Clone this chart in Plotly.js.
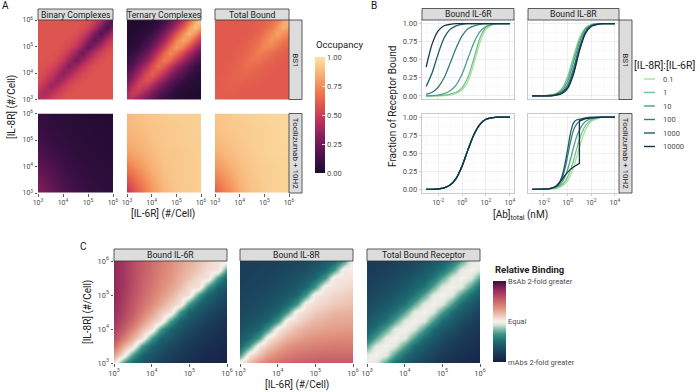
<!DOCTYPE html>
<html>
<head>
<meta charset="utf-8">
<script src="https://cdn.plot.ly/plotly-3.0.1.min.js"></script>
<style>
  html, body { margin: 0; padding: 0; background: #fff; }
  #plot { width: 700px; height: 392px; }
</style>
</head>
<body>
<div id="plot"></div>
<script>
// ---------------- data ----------------
// receptor grids, log10(#/cell)
const logGrid13 = [3, 3.25, 3.5, 3.75, 4, 4.25, 4.5, 4.75, 5, 5.25, 5.5, 5.75, 6];
const logGrid7 = [3, 3.5, 4, 4.5, 5, 5.5, 6];
const expTicks = [3, 4, 5, 6];
const expLabels = ["10<sup>3</sup>", "10<sup>4</sup>", "10<sup>5</sup>", "10<sup>6</sup>"];

// occupancy in %, rows = IL-8R from 10^3 (bottom) to 10^6 (top), cols = IL-6R 10^3 -> 10^6
const binaryBS1 = [
  [42,46,51,55,57,58,58,58,58,58,58,58,58],
  [46,40,44,50,54,57,58,58,58,58,58,58,58],
  [51,44,37,42,49,54,57,58,58,58,58,58,58],
  [55,50,42,35,41,48,54,57,58,58,58,58,58],
  [57,54,49,41,32,39,47,53,56,58,58,58,58],
  [58,57,54,48,39,30,37,46,53,56,58,58,58],
  [58,58,57,54,47,37,27,35,45,52,56,58,58],
  [58,58,58,57,53,46,35,25,34,44,52,56,58],
  [58,58,58,58,56,53,45,34,22,32,43,52,56],
  [58,58,58,58,58,56,52,44,32,20,30,42,51],
  [58,58,58,58,58,58,56,52,43,30,17,28,41],
  [58,58,58,58,58,58,58,56,52,42,28,15,27],
  [58,58,58,58,58,58,58,58,56,51,41,27,12]
];
const ternaryBS1 = [
  [45,41,33,26,19,13,8,5,3,2,1,1,1],
  [41,49,45,36,28,20,14,9,5,3,2,1,1],
  [33,45,53,49,39,30,22,15,9,5,4,2,1],
  [26,36,49,58,53,42,32,23,16,10,6,4,2],
  [19,28,39,53,62,56,45,34,25,17,10,6,4],
  [13,20,30,42,56,66,60,48,36,26,18,11,6],
  [8,14,22,32,45,60,70,64,51,38,28,19,12],
  [5,9,15,23,34,48,64,74,67,53,40,29,20],
  [3,5,9,16,25,36,51,67,79,71,56,42,30],
  [2,3,5,10,17,26,38,53,71,83,75,59,45],
  [1,2,4,6,10,18,28,40,56,75,87,78,62],
  [1,1,2,4,6,11,19,29,42,59,78,91,82],
  [1,1,1,2,4,6,12,20,30,45,62,82,95]
];
const totalBS1 = [
  [61,61,60,60,60,60,60,60,60,60,60,60,60],
  [61,61,61,61,60,60,60,60,60,60,60,60,60],
  [61,61,62,62,61,61,60,60,60,60,60,60,60],
  [60,61,62,63,63,62,61,61,60,60,60,60,60],
  [60,60,61,63,64,64,63,62,61,60,60,60,60],
  [60,60,61,62,64,66,65,64,62,61,60,60,60],
  [60,60,60,61,63,65,68,67,65,63,61,61,60],
  [60,60,60,61,62,64,67,71,69,66,63,62,61],
  [60,60,60,60,61,62,65,69,74,72,68,64,62],
  [60,60,60,60,60,61,63,66,72,77,74,69,65],
  [60,60,60,60,60,60,61,63,68,74,81,77,71],
  [60,60,60,60,60,60,61,62,64,69,77,85,81],
  [60,60,60,60,60,60,60,61,62,65,71,81,90]
];
// Tocilizumab + 10H2 (half-decade grid)
const binaryToci = [
  [30,24,17,12,9,7,6],
  [26,20,14,10,7,6,5],
  [21,16,11,8,6,5,4],
  [16,12,9,6,5,4,4],
  [12,9,7,5,4,4,3],
  [9,7,6,4,4,3,3],
  [8,6,5,4,3,3,3]
];
const ternaryToci = [
  [45,62,78,87,91,93,94],
  [58,70,82,89,92,93,94],
  [70,78,86,90,92,93,94],
  [80,84,88,91,92,93,94],
  [85,87,90,92,93,94,94],
  [87,89,91,92,93,94,95],
  [88,90,92,93,94,94,95]
];
const totalToci = [
  [60,72,84,90,93,95,96],
  [70,78,87,91,94,95,96],
  [78,84,89,92,94,95,96],
  [84,88,91,93,95,96,96],
  [88,90,92,94,95,96,97],
  [90,92,93,94,95,96,97],
  [91,92,94,95,96,96,97]
];

// relative binding, log2(BsAb / mAbs) x 100
const relIL6R = [
  [6,-30,-55,-63,-70,-75,-80,-84,-87,-90,-92,-94,-95],
  [28,6,-30,-55,-63,-70,-75,-80,-84,-87,-90,-92,-94],
  [48,25,6,-30,-55,-63,-70,-75,-80,-84,-87,-90,-92],
  [60,43,22,6,-30,-55,-63,-70,-75,-80,-84,-87,-90],
  [68,54,37,19,6,-30,-55,-63,-70,-75,-80,-84,-87],
  [73,61,47,32,16,6,-30,-55,-63,-70,-75,-80,-84],
  [76,66,53,41,28,14,6,-30,-55,-63,-70,-75,-80],
  [78,68,56,46,35,25,13,6,-30,-55,-63,-70,-75],
  [80,70,59,49,40,31,22,11,6,-30,-55,-63,-70],
  [80,72,60,51,43,35,27,19,9,6,-30,-55,-63],
  [80,72,62,52,45,37,31,23,16,8,6,-30,-55],
  [80,72,62,54,46,39,33,26,20,14,7,6,-30],
  [80,72,62,54,47,40,34,28,23,17,11,5,6]
];
const relIL8R = [
  [4,19,33,41,47,50,52,53,55,55,55,55,55],
  [-30,4,17,29,36,41,44,46,47,48,48,48,48],
  [-52,-30,4,15,25,32,36,38,40,41,42,42,42],
  [-60,-52,-30,4,13,22,27,31,33,34,35,36,36],
  [-65,-60,-52,-30,4,11,19,23,26,28,29,30,31],
  [-68,-65,-60,-52,-30,4,9,16,20,23,25,26,26],
  [-70,-68,-65,-60,-52,-30,4,8,14,17,20,21,22],
  [-72,-70,-68,-65,-60,-52,-30,4,7,11,14,16,17],
  [-73,-72,-70,-68,-65,-60,-52,-30,4,6,10,12,14],
  [-74,-73,-72,-70,-68,-65,-60,-52,-30,4,5,8,10],
  [-75,-74,-73,-72,-70,-68,-65,-60,-52,-30,4,4,6],
  [-75,-75,-74,-73,-72,-70,-68,-65,-60,-52,-30,4,2],
  [-76,-75,-75,-74,-73,-72,-70,-68,-65,-60,-52,-30,4]
];
const relTotal = [
  [0,-6,-28,-50,-60,-67,-73,-78,-82,-85,-88,-90,-92],
  [-5,0,-6,-28,-50,-60,-67,-73,-78,-82,-85,-88,-90],
  [-26,-5,0,-6,-28,-50,-60,-67,-73,-78,-82,-85,-88],
  [-46,-26,-5,0,-6,-28,-50,-60,-67,-73,-78,-82,-85],
  [-55,-46,-26,-5,0,-6,-28,-50,-60,-67,-73,-78,-82],
  [-61,-55,-46,-26,-5,0,-6,-28,-50,-60,-67,-73,-78],
  [-66,-61,-55,-46,-26,-5,0,-6,-28,-50,-60,-67,-73],
  [-69,-66,-61,-55,-46,-26,-5,0,-6,-28,-50,-60,-67],
  [-72,-69,-66,-61,-55,-46,-26,-5,0,-6,-28,-50,-60],
  [-74,-72,-69,-66,-61,-55,-46,-26,-5,0,-6,-28,-50],
  [-76,-74,-72,-69,-66,-61,-55,-46,-26,-5,0,-6,-28],
  [-77,-76,-74,-72,-69,-66,-61,-55,-46,-26,-5,0,-6],
  [-78,-77,-76,-74,-72,-69,-66,-61,-55,-46,-26,-5,0]
];

// panel B: fraction of receptor bound vs log10 [Ab]total (nM)
const abLog = [-3,-2.5,-2,-1.5,-1,-0.5,0,0.5,1,1.5,2,2.5,3,3.5,4];
const abLogFine = [-3,-2.5,-2,-1.5,-1,-0.75,-0.5,-0.25,0,0.25,0.5,0.75,1,1.25,1.5,2,2.5,3,3.5,4];
const abLogJump = [-3,-2.5,-2,-1.5,-1,-0.75,-0.5,-0.25,0,0.25,0.5,0.75,1,1,1.25,1.5,2,2.5,3,3.5,4];
const ratioLabels = ["0.1", "1", "10", "100", "1000", "10000"];
const ratioColors = ["#a3e39c", "#74c38d", "#4f9e88", "#327c7b", "#215c69", "#16324a"];

const il6rBS1 = [
  [0,0,0,0.005,0.015,0.035,0.08,0.2,0.45,0.74,0.92,0.98,1,1,1],
  [0,0,0.005,0.01,0.025,0.05,0.11,0.26,0.52,0.8,0.95,0.99,1,1,1],
  [0,0.005,0.01,0.03,0.07,0.15,0.3,0.52,0.74,0.89,0.96,0.99,1,1,1],
  [0.02,0.05,0.12,0.25,0.45,0.66,0.83,0.93,0.97,0.99,1,1,1,1,1],
  [0.13,0.32,0.58,0.8,0.92,0.97,0.99,1,1,1,1,1,1,1,1],
  [0.4,0.72,0.9,0.97,0.99,1,1,1,1,1,1,1,1,1,1]
];
const il8rBS1 = [
  [0,0,0,0.01,0.03,0.1,0.27,0.55,0.8,0.94,0.99,1,1,1,1],
  [0,0,0,0.01,0.03,0.09,0.25,0.52,0.78,0.93,0.98,1,1,1,1],
  [0,0,0,0.01,0.02,0.07,0.2,0.46,0.74,0.92,0.98,1,1,1,1],
  [0,0,0,0,0.02,0.05,0.15,0.38,0.68,0.89,0.97,0.99,1,1,1],
  [0,0,0,0,0.01,0.04,0.12,0.33,0.64,0.87,0.97,0.99,1,1,1],
  [0,0,0,0,0.01,0.03,0.1,0.3,0.62,0.86,0.96,0.99,1,1,1]
];
// IL-6R with Tocilizumab: all ratios overlap on one curve
const il6rToci = [0,0,0.005,0.02,0.06,0.15,0.32,0.55,0.76,0.9,0.97,0.99,1,1,1];
// IL-8R with 10H2 (fine grid); the 10000 ratio jumps at 10^1 nM
const il8rToci = [
  [0,0,0,0.005,0.01,0.02,0.04,0.07,0.12,0.2,0.3,0.44,0.58,0.71,0.82,0.94,0.98,1,1,1],
  [0,0,0,0.005,0.02,0.04,0.06,0.1,0.17,0.27,0.4,0.55,0.69,0.8,0.88,0.96,0.99,1,1,1],
  [0,0,0,0.01,0.03,0.05,0.09,0.16,0.27,0.42,0.58,0.72,0.82,0.89,0.94,0.98,0.99,1,1,1],
  [0,0,0,0.01,0.04,0.07,0.14,0.27,0.46,0.66,0.82,0.9,0.94,0.96,0.98,0.99,1,1,1,1],
  [0,0,0,0.01,0.04,0.08,0.17,0.33,0.55,0.78,0.92,0.96,0.97,0.98,0.99,1,1,1,1,1]
];
const il8rToci10000 = [0,0,0,0.01,0.04,0.08,0.13,0.19,0.24,0.28,0.31,0.34,0.36,0.95,0.97,0.98,0.99,1,1,1,1];

// ---------------- styling ----------------
const W = 700, H = 392;
const FONT = "Roboto, 'Noto Sans', sans-serif";
const occScale = [
  [0, "#1e0b2c"], [0.1, "#3a0f45"], [0.2, "#5c1552"], [0.3, "#821d5c"],
  [0.4, "#a92a5e"], [0.5, "#cc3d58"], [0.6, "#e25a4e"], [0.7, "#ef7b4f"],
  [0.8, "#f59e63"], [0.9, "#f9c185"], [1, "#fce2a6"]
];
const curlScale = [
  [0, "#151d44"], [0.12, "#1b3d5a"], [0.25, "#1c6b72"], [0.34, "#3a9187"],
  [0.41, "#8fc0ab"], [0.46, "#d8e6dc"], [0.5, "#f7f0ec"], [0.54, "#f2dcd2"],
  [0.6, "#eab7a5"], [0.67, "#df8f7b"], [0.76, "#c8606a"], [0.88, "#9a2f5c"], [1, "#3b0f3a"]
];

const pct = m => m.map(r => r.map(v => v / 100));

const layout = {
  width: W, height: H,
  margin: { l: 0, r: 0, t: 0, b: 0 },
  paper_bgcolor: "#fff", plot_bgcolor: "#fff",
  font: { family: FONT, size: 8, color: "#4d4d4d" },
  showlegend: false,
  shapes: [], annotations: []
};
const traces = [];

function addAxes(n, xpx, ypx, xopt, yopt) {
  const sfx = n === 1 ? "" : String(n);
  layout["xaxis" + sfx] = Object.assign({ domain: [xpx[0] / W, xpx[1] / W], anchor: "y" + sfx, fixedrange: true }, xopt);
  layout["yaxis" + sfx] = Object.assign({ domain: [1 - ypx[1] / H, 1 - ypx[0] / H], anchor: "x" + sfx, fixedrange: true }, yopt);
  return { x: "x" + sfx, y: "y" + sfx };
}

function heatAxis(show, size) {
  return {
    range: [3, 6], tickvals: expTicks, ticktext: expLabels,
    showticklabels: show, ticks: show ? "outside" : "", ticklen: 2.5, tickwidth: 0.8, tickcolor: "#333",
    tickfont: { size: size || 7, color: "#4d4d4d" },
    showgrid: false, zeroline: false, showline: false
  };
}

function lineAxisX(show) {
  return {
    range: [-3.35, 4.35], tickvals: [-2, 0, 2, 4],
    ticktext: ["10<sup>-2</sup>", "10<sup>0</sup>", "10<sup>2</sup>", "10<sup>4</sup>"],
    showticklabels: show, ticks: show ? "outside" : "", ticklen: 2.5, tickwidth: 0.7, tickcolor: "#b3b3b3",
    tickfont: { size: 7, color: "#4d4d4d" },
    showgrid: true, gridcolor: "#e2e2e2", gridwidth: 0.6,
    minor: { tickvals: [-3, -1, 1, 3], showgrid: true, gridcolor: "#f1f1f1", gridwidth: 0.4, ticks: "" },
    zeroline: false, showline: true, mirror: true, linecolor: "#b3b3b3", linewidth: 0.7
  };
}
function lineAxisY(show) {
  return {
    range: [-0.05, 1.05], tickvals: [0, 0.25, 0.5, 0.75, 1],
    ticktext: ["0.00", "0.25", "0.50", "0.75", "1.00"],
    showticklabels: show, ticks: show ? "outside" : "", ticklen: 2.5, tickwidth: 0.7, tickcolor: "#b3b3b3",
    tickfont: { size: 7.5, color: "#4d4d4d" },
    showgrid: true, gridcolor: "#e2e2e2", gridwidth: 0.6,
    minor: { tickvals: [0.125, 0.375, 0.625, 0.875], showgrid: true, gridcolor: "#f1f1f1", gridwidth: 0.4, ticks: "" },
    zeroline: false, showline: true, mirror: true, linecolor: "#b3b3b3", linewidth: 0.7
  };
}

function strip(x0, y0, x1, y1, text, vertical) {
  layout.shapes.push({
    type: "rect", xref: "paper", yref: "paper",
    x0: x0 / W, x1: x1 / W, y0: 1 - y1 / H, y1: 1 - y0 / H,
    fillcolor: "#dcdcdc", line: { color: "#333", width: 0.8 }, layer: "above"
  });
  layout.annotations.push({
    xref: "paper", yref: "paper", x: (x0 + x1) / 2 / W, y: 1 - (y0 + y1) / 2 / H,
    text: text, showarrow: false, textangle: vertical ? 90 : 0,
    xanchor: "center", yanchor: "middle",
    font: { size: vertical ? 8 : 8.7, color: "#1a1a1a", family: FONT }
  });
}

function label(px, py, text, opt) {
  layout.annotations.push(Object.assign({
    xref: "paper", yref: "paper", x: px / W, y: 1 - py / H, text: text, showarrow: false,
    xanchor: "center", yanchor: "middle", font: { size: 10, color: "#222", family: FONT }
  }, opt || {}));
}

// ---------------- panel A ----------------
const aCols = [[38, 113], [127, 201], [215, 289]];
const aRows = [[20, 99.5], [113.5, 193]];
const aData = [
  [binaryBS1, ternaryBS1, totalBS1],
  [binaryToci, ternaryToci, totalToci]
];
let axisN = 1;
aRows.forEach((rowPx, r) => {
  aCols.forEach((colPx, c) => {
    const ax = addAxes(axisN++, colPx, rowPx, heatAxis(r === 1), heatAxis(c === 0));
    const grid = r === 0 ? logGrid13 : logGrid7;
    const first = r === 0 && c === 0;
    traces.push({
      type: "heatmap", x: grid, y: grid, z: pct(aData[r][c]),
      xaxis: ax.x, yaxis: ax.y, zsmooth: "best",
      colorscale: occScale, zmin: 0, zmax: 1, hoverinfo: "skip",
      showscale: first,
      colorbar: first ? {
        x: 315 / W, xanchor: "left", xpad: 0,
        y: 1 - 115 / H, yanchor: "middle", ypad: 0,
        len: 116 / H, lenmode: "fraction", thickness: 10, outlinewidth: 0,
        tickvals: [0, 0.25, 0.5, 0.75, 1], ticktext: ["0.00", "0.25", "0.50", "0.75", "1.00"],
        ticks: "inside", ticklen: 2.5, tickcolor: "#fff", tickwidth: 0.8,
        tickfont: { size: 7.5, color: "#4d4d4d" }
      } : undefined
    });
  });
});
strip(38, 9, 113, 20, "Binary Complexes");
strip(127, 9, 201, 20, "Ternary Complexes");
strip(215, 9, 289, 20, "Total Bound");
strip(289, 20, 302, 99.5, "BS1", true);
strip(289, 113.5, 302, 193, "Tocilizumab + 10H2", true);
label(5, 6, "A", { font: { size: 10, color: "#111", family: FONT } });
label(12, 107, "[IL-8R] (#/Cell)", { textangle: -90 });
label(163, 214, "[IL-6R] (#/Cell)");
label(314, 45, "Occupancy", { xanchor: "left", font: { size: 9.5, color: "#222", family: FONT } });

// ---------------- panel B ----------------
const bCols = [[422, 514], [528, 619]];
const bPanels = [
  { col: 0, row: 0, series: il6rBS1.map(v => ({ x: abLog, y: v })) },
  { col: 1, row: 0, series: il8rBS1.map(v => ({ x: abLog, y: v })) },
  { col: 0, row: 1, series: ratioLabels.map(() => ({ x: abLog, y: il6rToci })) },
  { col: 1, row: 1, series: il8rToci.map(v => ({ x: abLogFine, y: v })).concat([{ x: abLogJump, y: il8rToci10000, jump: true }]) }
];
bPanels.forEach(p => {
  const ax = addAxes(axisN++, bCols[p.col], aRows[p.row], lineAxisX(p.row === 1), lineAxisY(p.col === 0));
  p.series.forEach((s, i) => {
    traces.push({
      type: "scatter", mode: "lines", x: s.x, y: s.y, xaxis: ax.x, yaxis: ax.y,
      line: { color: ratioColors[i], width: 1.3, shape: s.jump ? "linear" : "spline", smoothing: 0.8 },
      name: ratioLabels[i], hoverinfo: "skip"
    });
  });
});
strip(422, 8.5, 514, 20, "Bound IL-6R");
strip(528, 8.5, 619, 20, "Bound IL-8R");
strip(619, 20, 632, 99.5, "BS1", true);
strip(619, 113.5, 632, 193, "Tocilizumab + 10H2", true);
label(374, 6, "B", { font: { size: 10, color: "#111", family: FONT } });
label(392, 107, "Fraction of Receptor Bound", { textangle: -90 });
label(520, 216, "[Ab]<sub>total</sub> (nM)");
// legend
label(632, 65, "[IL-8R]:[IL-6R]", { xanchor: "left", font: { size: 10.5, color: "#222", family: FONT } });
const legY = [79, 92.5, 106, 119.5, 133, 146.5];
ratioLabels.forEach((lab, i) => {
  layout.shapes.push({
    type: "line", xref: "paper", yref: "paper",
    x0: 644 / W, x1: 655 / W, y0: 1 - legY[i] / H, y1: 1 - legY[i] / H,
    line: { color: ratioColors[i], width: 1.4 }
  });
  label(661, legY[i], lab, { xanchor: "left", font: { size: 7.5, color: "#4d4d4d", family: FONT } });
});

// ---------------- panel C ----------------
const cCols = [[114, 227], [240, 353], [367, 480]];
const cRow = [261, 363];
const cData = [relIL6R, relIL8R, relTotal];
const cTitles = ["Bound IL-6R", "Bound IL-8R", "Total Bound Receptor"];
cCols.forEach((colPx, c) => {
  const ax = addAxes(axisN++, colPx, cRow, heatAxis(true, 7.5), heatAxis(c === 0, 7.5));
  traces.push({
    type: "heatmap", x: logGrid13, y: logGrid13, z: pct(cData[c]),
    xaxis: ax.x, yaxis: ax.y, zsmooth: "best",
    colorscale: curlScale, zmin: -1, zmax: 1, hoverinfo: "skip",
    showscale: c === 0,
    colorbar: c === 0 ? {
      x: 493 / W, xanchor: "left", xpad: 0,
      y: 1 - 321.5 / H, yanchor: "middle", ypad: 0,
      len: 81 / H, lenmode: "fraction", thickness: 13, outlinewidth: 0,
      tickvals: [-1, 0, 1], ticktext: ["mAbs 2-fold greater", "Equal", "BsAb 2-fold greater"],
      ticks: "", tickfont: { size: 7.5, color: "#4d4d4d" }
    } : undefined
  });
  strip(colPx[0], 249, colPx[1], 261, cTitles[c]);
});
label(83, 247, "C", { font: { size: 10, color: "#111", family: FONT } });
label(88, 312, "[IL-8R] (#/Cell)", { textangle: -90 });
label(297, 385, "[IL-6R] (#/Cell)");
label(493, 269, "<b>Relative Binding</b>", { xanchor: "left", font: { size: 9.5, color: "#222", family: FONT } });

Plotly.newPlot("plot", traces, layout, { staticPlot: true, displayModeBar: false });
</script>
</body>
</html>
